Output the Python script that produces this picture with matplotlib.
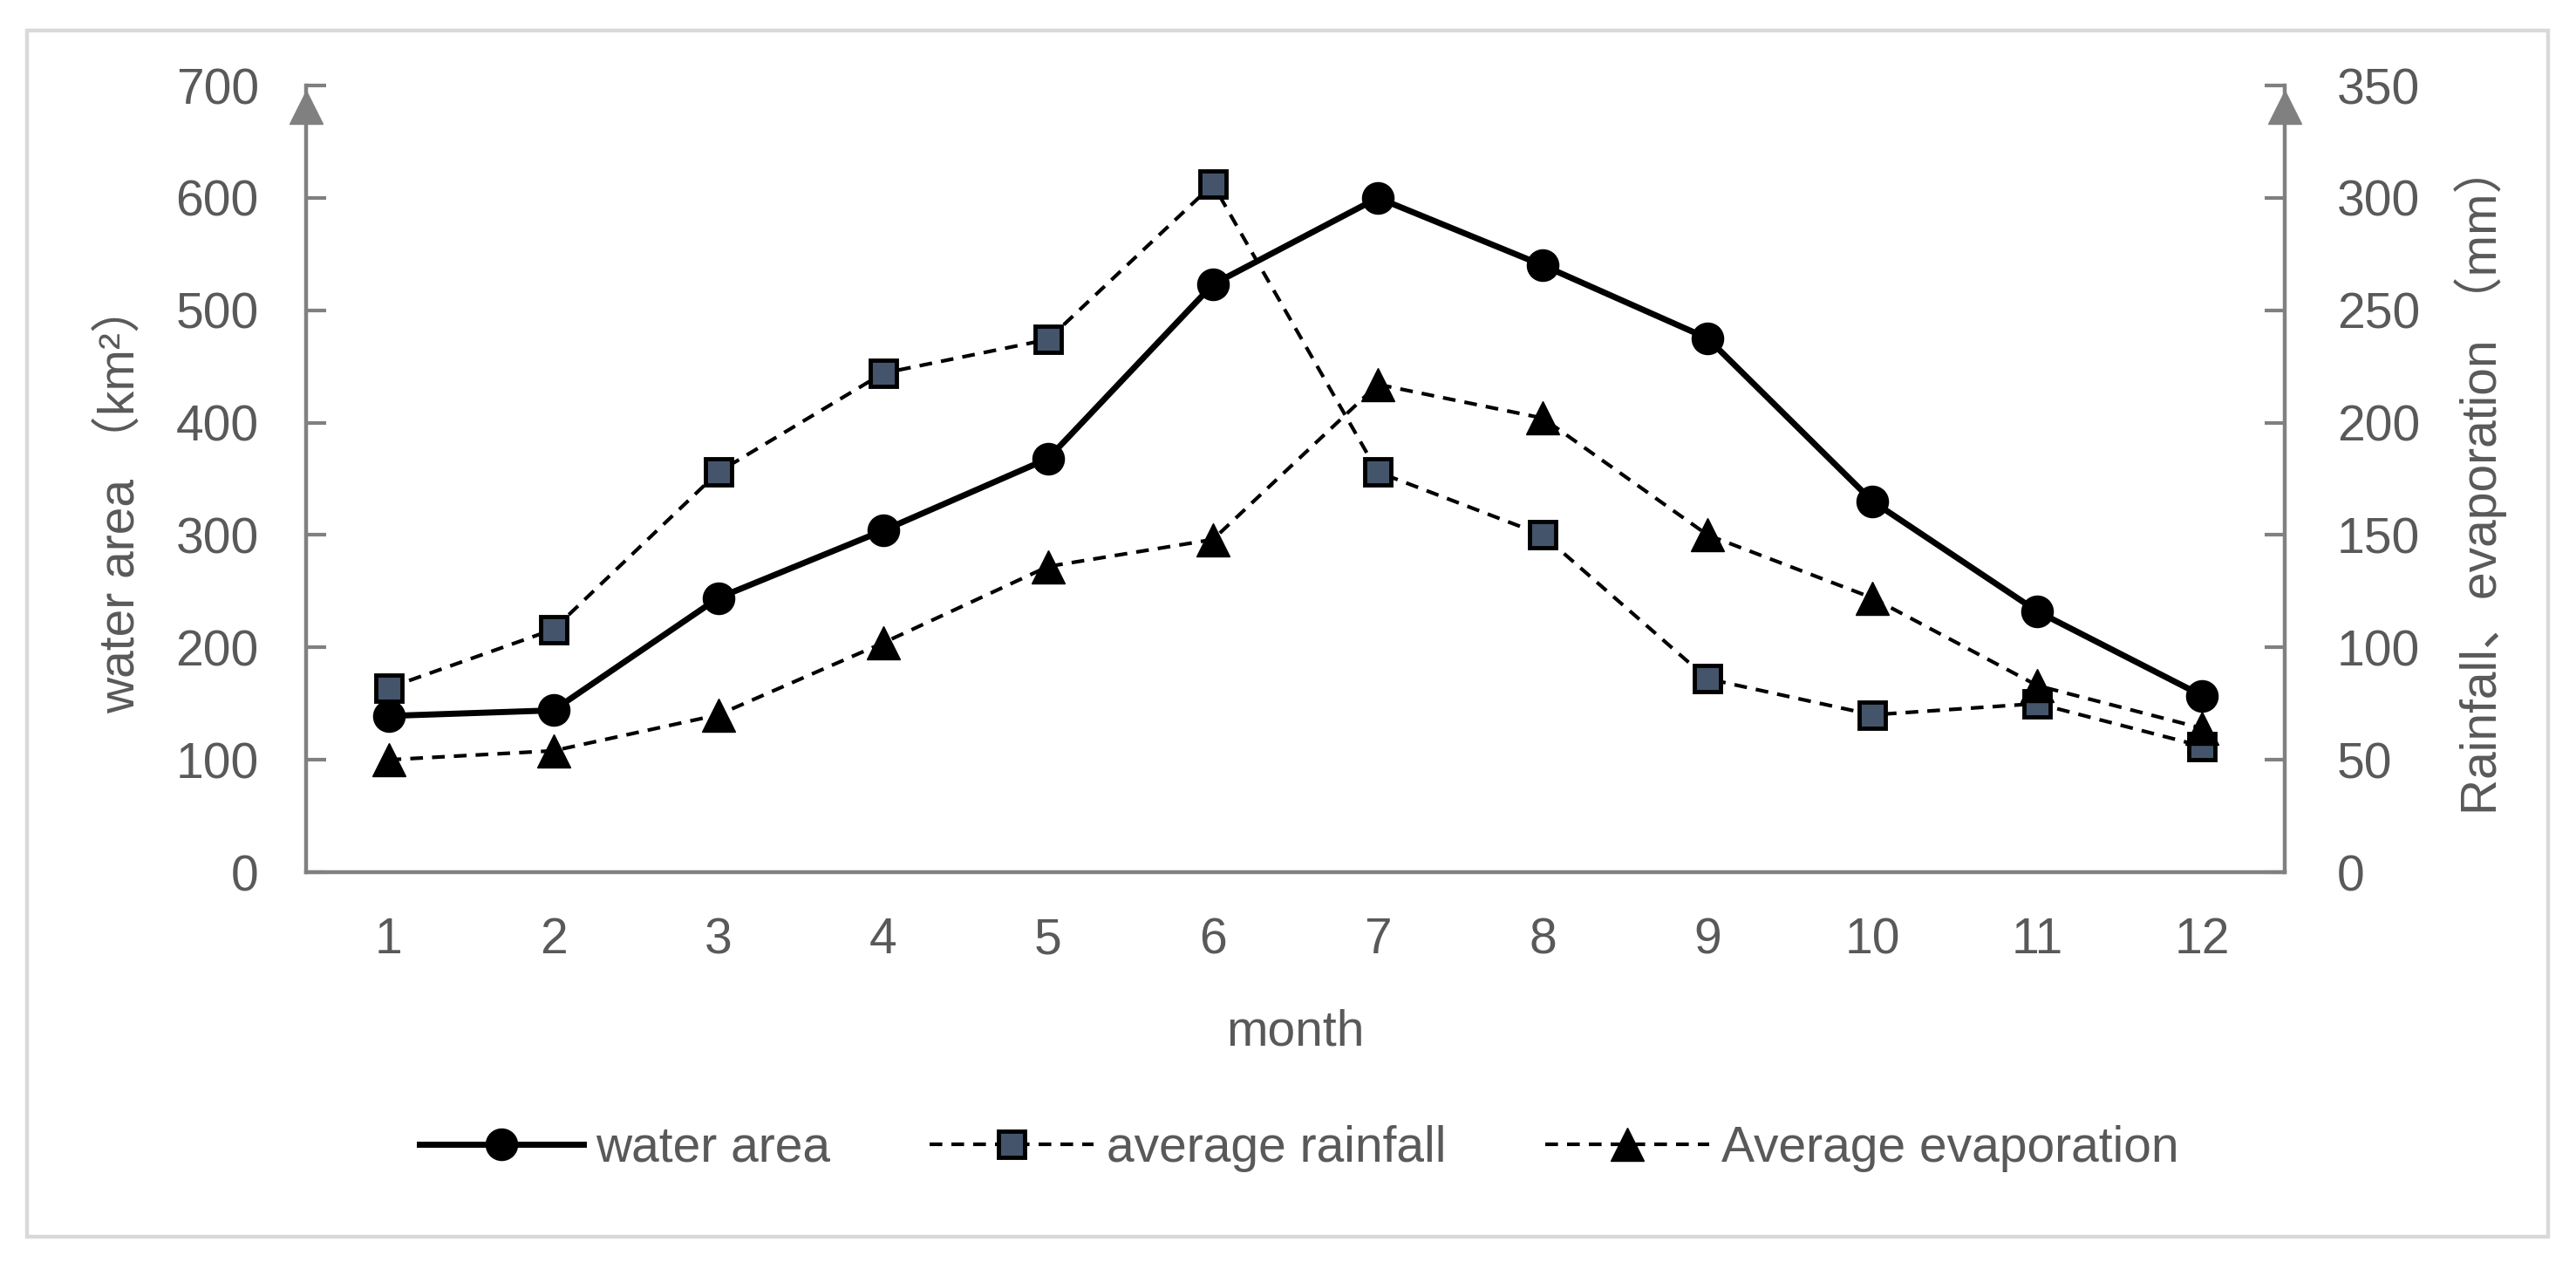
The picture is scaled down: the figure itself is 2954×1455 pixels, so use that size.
import matplotlib
matplotlib.use('Agg')
import matplotlib.pyplot as plt
from matplotlib.patches import Rectangle

plt.rcParams['font.family'] = ['Liberation Sans', 'Noto Sans CJK SC', 'DejaVu Sans']

# data
months = list(range(1, 13))
water_area = [139, 144, 244, 304, 368, 523, 600, 540, 475, 330, 232, 157]      # km2, left axis
avg_rainfall = [82, 108, 178, 222, 237, 306, 178, 150, 86, 70, 75, 56]        # mm, right axis
avg_evaporation = [50, 54, 70, 102, 136, 148, 217, 202, 150, 122, 83, 64]     # mm, right axis

left_ticks = list(range(0, 701, 100))
right_ticks = list(range(0, 351, 50))

txtc = '#595959'
axc = '#808080'
fs = 41

W, H = 2954, 1455
fig = plt.figure(figsize=(W / 100, H / 100), dpi=100)
fig.patch.set_facecolor('white')

# outer light-grey chart border
fig.patches.append(Rectangle((31 / W, 1 - 1418 / H), (2922 - 31) / W, (1418 - 35) / H,
                             transform=fig.transFigure, fill=False,
                             edgecolor='#d9d9d9', lw=3.2, zorder=0))

ax = fig.add_axes([351 / W, 1 - 1000 / H, (2620 - 351) / W, (1000 - 98) / H])
ax2 = ax.twinx()

#%% series
l1, = ax.plot(months, water_area, color='black', lw=5, marker='o', ms=26,
              mfc='black', mec='black', label='water area', zorder=3)
l2, = ax2.plot(months, avg_rainfall, color='black', lw=3, ls=(0, (3.5, 2.5)),
               marker='s', ms=21, mfc='#44546a', mec='black', mew=3.5,
               label='average rainfall', zorder=3)
l3, = ax2.plot(months, avg_evaporation, color='black', lw=3, ls=(0, (3.5, 2.5)),
               marker='^', ms=27, mfc='black', mec='black', mew=1,
               label='Average evaporation', zorder=4)

#%% axes cosmetics
ax.set_xlim(0.5, 12.5)
ax.set_ylim(0, 700)
ax2.set_ylim(0, 350)
ax.set_xticks(months)
ax.set_yticks(left_ticks)
ax2.set_yticks(right_ticks)

for s in ('top', 'right'):
    ax.spines[s].set_visible(False)
for s in ('top', 'left', 'bottom'):
    ax2.spines[s].set_visible(False)
for sp in (ax.spines['left'], ax.spines['bottom'], ax2.spines['right']):
    sp.set_color(axc)
    sp.set_linewidth(3.2)

ax.tick_params(axis='x', length=0, pad=37, labelsize=fs, labelcolor=txtc)
ax.tick_params(axis='y', direction='in', length=16.5, width=3, color=axc,
               pad=39, labelsize=fs, labelcolor=txtc)
ax2.tick_params(axis='y', direction='in', length=16.5, width=3, color=axc,
                pad=43, labelsize=fs, labelcolor=txtc)

# arrow heads at the top of both value axes
ax.plot([0], [0.972], marker='^', ms=27, color=axc, transform=ax.transAxes,
        clip_on=False, zorder=5)
ax2.plot([1], [0.972], marker='^', ms=27, color=axc, transform=ax2.transAxes,
         clip_on=False, zorder=5)

ax.set_xlabel('month', fontsize=fs, color=txtc)
ax.xaxis.set_label_coords(0.5, -0.203)
ax.xaxis.label.set_va('center')

ax.set_ylabel('water area （km²）', fontsize=fs, color=txtc)
ax.yaxis.set_label_coords(-0.093, 0.475)
ax.yaxis.label.set_va('center')

ax2.set_ylabel('Rainfall、evaporation （mm）', fontsize=fs, color=txtc, rotation=90)
ax2.yaxis.set_label_coords(1.099, 0.5)
ax2.yaxis.label.set_va('center')

leg = fig.legend(handles=[l1, l2, l3], loc='center', bbox_to_anchor=(1490 / W, 1 - 1317 / H),
                 ncol=3, frameon=False, fontsize=fs, handlelength=3.3,
                 handletextpad=0.25, columnspacing=2.0, borderaxespad=0)
for t in leg.get_texts():
    t.set_color(txtc)

fig.savefig('out.png', dpi=100)
